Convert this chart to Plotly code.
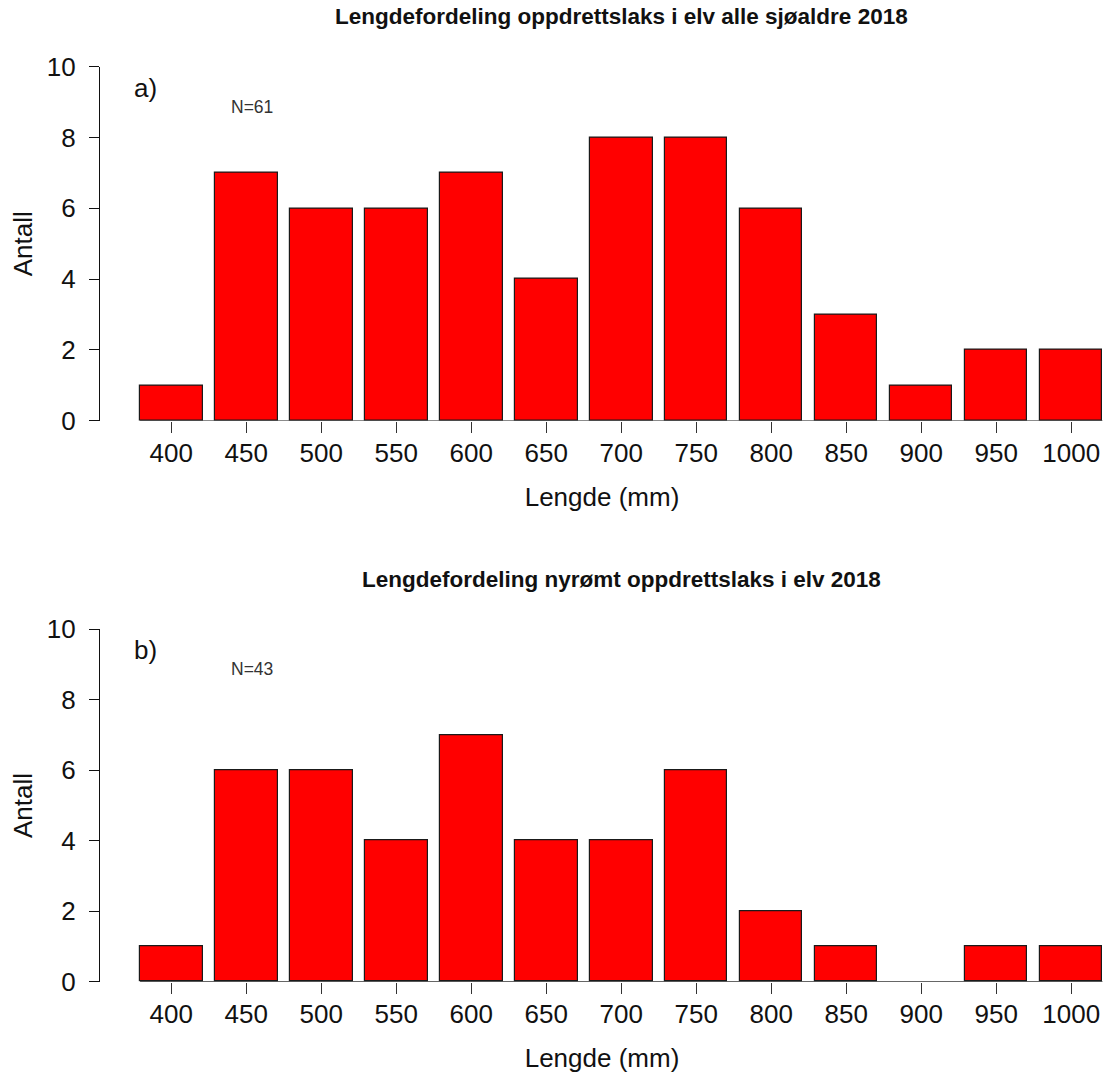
import plotly.graph_objects as go

# Length classes (mm) and counts per class
lengths = [400, 450, 500, 550, 600, 650, 700, 750, 800, 850, 900, 950, 1000]
counts_all = [1, 7, 6, 6, 7, 4, 8, 8, 6, 3, 1, 2, 2]
counts_new = [1, 6, 6, 4, 7, 4, 4, 6, 2, 1, 0, 1, 1]

title_all = "Lengdefordeling oppdrettslaks i elv alle sjøaldre 2018"
title_new = "Lengdefordeling nyrømt oppdrettslaks i elv 2018"
panel_labels = ["a)", "b)"]
y_ticks = [0, 2, 4, 6, 8, 10]

W, H = 1104, 1075
FONT = "Liberation Sans, Arial, sans-serif"
bin_w = 50
bar_w = bin_w / 1.2

fig = go.Figure()

panels = [
    (counts_all, title_all, panel_labels[0], "x", "y", [0.6086, 0.9380]),
    (counts_new, title_new, panel_labels[1], "x2", "y2", [0.0868, 0.4146]),
]

for i, (counts, ttl, lab, xa, ya, dom) in enumerate(panels):
    fig.add_trace(go.Bar(
        x=lengths, y=counts, width=bar_w,
        marker=dict(color="#ff0000",
                    line=dict(color="#1a1a1a", width=[1.2 if c > 0 else 0 for c in counts])),
        xaxis=xa, yaxis=ya, showlegend=False, hoverinfo="x+y",
    ))
    sfx = "" if i == 0 else "2"
    fig.update_layout(**{
        "xaxis" + sfx: dict(
            domain=[0, 1], range=[352.46, 1021.87], anchor="y" + sfx,
            tickmode="array", tickvals=lengths, ticktext=[str(v) for v in lengths],
            ticks="outside", ticklen=11, tickwidth=1.2, tickcolor="#333",
            showline=False, showgrid=False, zeroline=False,
            tickfont=dict(family=FONT, size=26, color="#111"),
            ticklabelstandoff=-2,
            title=dict(text="Lengde (mm)", font=dict(family=FONT, size=26, color="#111"),
                       standoff=20),
            automargin=False, fixedrange=True,
        ),
        "yaxis" + sfx: dict(
            domain=dom, range=[0, 10], anchor="x" + sfx,
            tickmode="array", tickvals=y_ticks,
            ticks="outside", ticklen=10, tickwidth=1.2, tickcolor="#111",
            showline=True, linecolor="#111", linewidth=1.4,
            showgrid=False, zeroline=False,
            tickfont=dict(family=FONT, size=26, color="#111"),
            ticklabelstandoff=8,
            title=dict(text="Antall", font=dict(family=FONT, size=26, color="#111"),
                       standoff=6),
            automargin=False, fixedrange=True,
        ),
    })
    # baseline under the bars, spanning first to last bar
    fig.add_shape(type="line", xref=xa, yref=ya,
                  x0=lengths[0] - bar_w / 2, x1=lengths[-1] + bar_w / 2, y0=0, y1=0,
                  line=dict(color="#333", width=1.2), layer="below")
    # panel title
    fig.add_annotation(text="<b>" + ttl + "</b>", xref="paper", yref="paper",
                       x=0.519, y=dom[1] + 0.0465, xanchor="center", yanchor="middle",
                       showarrow=False, font=dict(family=FONT, size=22.5, color="#111"))
    # panel label and sample size
    fig.add_annotation(text=lab, xref=xa + " domain", yref=ya + " domain",
                       x=0.032, y=0.94, xanchor="left", yanchor="middle",
                       showarrow=False, font=dict(family=FONT, size=26, color="#111"))
    fig.add_annotation(text="N=" + str(sum(counts)), xref=xa + " domain", yref=ya + " domain",
                       x=0.128, y=0.887, xanchor="left", yanchor="middle",
                       showarrow=False, font=dict(family=FONT, size=17.5, color="#333"))

fig.update_layout(
    width=W, height=H,
    margin=dict(l=100, r=0, t=0, b=0),
    paper_bgcolor="white", plot_bgcolor="white",
    bargap=0,
)

fig.write_html("out.html")
